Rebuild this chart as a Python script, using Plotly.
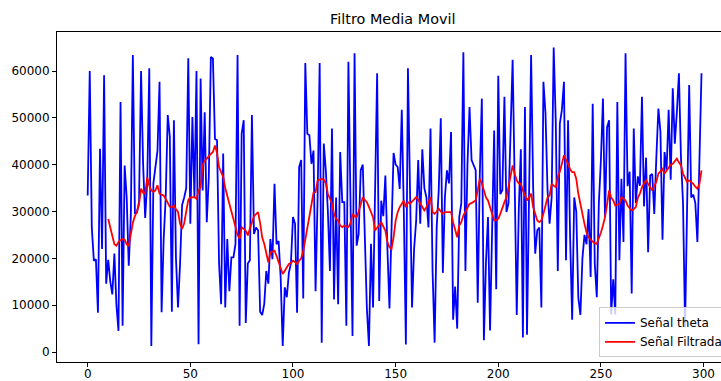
import plotly.graph_objects as go

# Señal theta (raw signal), sample index 0..299
blue = [
    33400, 60000, 26600, 19500, 19800, 8400, 43400, 22000, 59100, 14600,
    19700, 15100, 12300, 21000, 10000, 4500, 53400, 5600, 39800, 33000,
    18400, 28800, 63400, 29500, 29800, 32000, 60000, 40000, 28600, 36200,
    60600, 1300, 36000, 40000, 43000, 57700, 8500, 24000, 33000, 50600,
    46000, 8600, 49500, 20000, 9500, 18900, 31400, 33000, 35000, 62700,
    27400, 50200, 33000, 60000, 1650, 58400, 34500, 51200, 27700, 37300,
    63000, 62700, 45500, 45200, 18900, 10200, 42400, 9500, 24100, 13000,
    20200, 20200, 23100, 63400, 5600, 46600, 49500, 6200, 18900, 19600,
    50600, 25200, 26600, 26000, 8600, 7900, 10200, 17300, 14600, 24100,
    19800, 35900, 23000, 23700, 15900, 1300, 13800, 11700, 16900, 18900,
    28800, 27400, 8400, 39500, 41000, 11400, 61700, 46600, 46300, 40200,
    43000, 13000, 33000, 61700, 2000, 44500, 38800, 30000, 17300, 47700,
    11200, 33000, 10200, 42700, 32000, 32000, 5600, 62000, 29000, 3400,
    63800, 22700, 25200, 38800, 40000, 22700, 9300, 1300, 23100, 9500,
    33000, 59500, 10900, 32300, 29000, 37700, 22000, 9300, 26000, 42500,
    40000, 39500, 34800, 51700, 30000, 1600, 60600, 30000, 9500, 22000,
    28000, 41000, 27400, 43300, 35000, 33000, 26600, 47700, 17300, 2000,
    26600, 34500, 49900, 16900, 33000, 38800, 36000, 47000, 6900, 14000,
    5000, 28800, 31800, 64000, 17300, 40000, 52300, 41000, 40000, 38800,
    10500, 37700, 54100, 2500, 19000, 28800, 4600, 28000, 47300, 13400,
    59000, 33700, 34600, 54500, 29900, 31800, 46000, 62400, 36000, 7900,
    30500, 43300, 3100, 52300, 3700, 30400, 63400, 35000, 21000, 26000,
    26600, 9500, 57700, 51000, 34500, 27400, 33000, 65000, 49500, 17300,
    48800, 51700, 57700, 19600, 49500, 24500, 6900, 33000, 30000, 11600,
    7900, 20000, 25000, 23000, 30500, 16000, 53000, 18900, 11700, 31800,
    41000, 54100, 28800, 48000, 49500, 8000, 15500, 8000, 53400, 19600,
    37000, 23500, 63800, 35400, 38500, 12500, 47700, 31800, 37500, 35500,
    54500, 31100, 41500, 21300, 37700, 38000, 29500, 41500, 52000, 47000,
    24000, 42700, 38800, 51700, 36800, 56300, 44500, 51200, 59500, 41500,
    31800, 5300, 35000, 57000, 33000, 33600, 31800, 23500, 41000, 59500,
]

# Señal Filtrada (moving average), starts at sample index RED_START
RED_START = 10
red = [
    28400, 26500, 24500, 23000, 22700, 23500, 23900, 24100, 24000, 23000,
    22700, 25500, 27600, 29000, 30000, 31500, 34900, 34000, 33800, 37300,
    35500, 34500, 34200, 34500, 35600, 33800, 33600, 33400, 32700, 31700,
    31000, 30900, 31300, 30500, 29900, 27400, 26300, 27500, 30500, 32500,
    33000, 33000, 33070, 32700, 34500, 35200, 40000, 40800, 41300, 42000,
    42300, 42700, 44100, 42500, 39500, 38400, 37400, 35000, 33500, 31650,
    30000, 28400, 26700, 25000, 24150, 26650, 26300, 25900, 24900, 26500,
    27700, 29000, 29500, 29860, 27500, 24500, 23100, 21000, 19150, 21290,
    21500, 21650, 20500, 19150, 17500, 16650, 17360, 18000, 18790, 19000,
    19500, 19200, 18790, 19500, 20000, 21500, 24000, 26500, 28790, 32000,
    34000, 34150, 36650, 36800, 37000, 36800, 36000, 33790, 32500, 31650,
    29500, 28400, 28080, 27000, 26650, 27000, 26800, 26650, 27500, 29500,
    29000, 28790, 30000, 31500, 33070, 32500, 32000, 31000, 30000, 28790,
    25930, 26500, 27000, 27720, 26800, 25930, 23500, 22360, 22000, 24500,
    28000, 29860, 30930, 31800, 32360, 30930, 32000, 31650, 32200, 32720,
    33070, 32500, 31650, 30800, 30220, 30930, 32000, 33070, 29860, 29500,
    30000, 30580, 30000, 29500, 29860, 29860, 29860, 29860, 27720, 26000,
    24500, 27000, 27720, 29150, 30000, 30930, 31650, 31800, 32000, 32360,
    34500, 37000, 36000, 34500, 33000, 32360, 30930, 29150, 28080, 28200,
    28430, 29500, 30930, 32000, 33000, 35220, 37500, 39850, 38000, 36650,
    36000, 35900, 34500, 33500, 32360, 33000, 33790, 30930, 29500, 28080,
    27720, 28080, 29500, 31290, 33000, 33430, 35900, 35500, 35220, 37400,
    38500, 40200, 42000, 41000, 40200, 39000, 38400, 38400, 37000, 33790,
    31500, 29860, 27360, 25500, 24500, 24000, 23500, 23200, 23080, 24150,
    25500, 27000, 28790, 31500, 34500, 33000, 32360, 31290, 31500, 31650,
    33070, 32700, 32360, 31290, 30800, 30220, 30500, 30930, 33000, 33790,
    35220, 36000, 36650, 35900, 35200, 34500, 35500, 36300, 38100, 38600,
    39100, 38100, 38800, 39500, 40000, 40200, 40900, 41300, 40500, 39850,
    38100, 37000, 36300, 36650, 36300, 35900, 35300, 34860, 35900, 38800,
]

x_ticks = [0, 50, 100, 150, 200, 250, 300]
y_ticks = [0, 10000, 20000, 30000, 40000, 50000, 60000]
y_tick_labels = [str(v) for v in y_ticks]

FONT = "DejaVu Sans"

fig = go.Figure()
fig.add_trace(go.Scatter(
    x=list(range(len(blue))), y=blue, mode="lines", name="Señal theta",
    line=dict(color="#0000ff", width=1.8),
))
fig.add_trace(go.Scatter(
    x=list(range(RED_START, RED_START + len(red))), y=red, mode="lines",
    name="Señal Filtrada", line=dict(color="#ff0000", width=1.8),
))

axis_common = dict(
    showgrid=False, zeroline=False, showline=True, linecolor="#000000",
    linewidth=1, ticks="outside", ticklen=4, tickwidth=1, tickcolor="#000000",
    tickfont=dict(family=FONT, size=12, color="#000000"), automargin=False,
)

fig.update_layout(
    width=721, height=381,
    margin=dict(l=57, r=0, t=32, b=19, pad=0, autoexpand=False),
    paper_bgcolor="white", plot_bgcolor="white",
    title=dict(
        text="Filtro Media Movil", x=392.8 / 721, xref="container", xanchor="center",
        y=1 - 18.5 / 381, yref="container", yanchor="middle",
        font=dict(family=FONT, size=14.4, color="#000000"),
    ),
    xaxis=dict(range=[-14.95, 308.5], tickvals=x_ticks, mirror=True,
               ticklabelstandoff=-3, **axis_common),
    yaxis=dict(range=[-2135, 68330], tickvals=y_ticks, ticktext=y_tick_labels,
               mirror=False, **axis_common),
    legend=dict(
        x=(599 - 57) / 664, xanchor="left", y=(361.7 - 357) / 330, yanchor="bottom",
        bgcolor="rgba(255,255,255,0.8)", bordercolor="#cccccc", borderwidth=1,
        font=dict(family=FONT, size=12, color="#000000"),
        tracegroupgap=0,
    ),
    showlegend=True,
)

fig.write_html(
    "out.html",
    config={"displayModeBar": False},
    post_script="document.body.style.margin='0px';document.body.style.padding='0px';",
)
